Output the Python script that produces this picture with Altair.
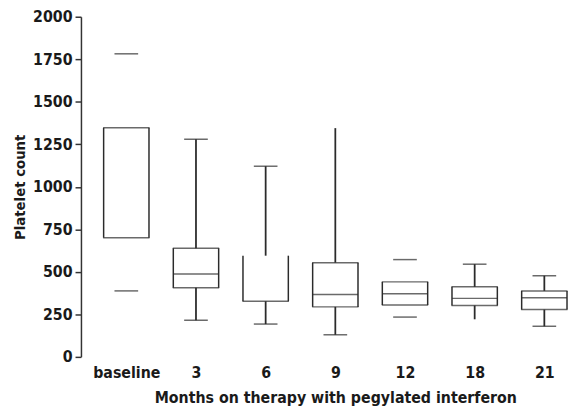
import altair as alt
import pandas as pd

cats = ["baseline", "3", "6", "9", "12", "18", "21"]
q1 = [701, 406, 327, 294, 305, 302, 278]
med = [0, 487, 398, 367, 371, 344, 348]
q3 = [1347, 639, 595, 554, 441, 412, 388]
lo = [388, 215, 193, 130, 234, 221, 180]
hi = [1782, 1280, 1121, 1345, 572, 545, 477]
# which parts are drawn in the original figure
upper_line = [False, True, True, True, False, True, True]
lower_line = [False, True, True, True, False, True, True]
upper_cap = [True, True, True, False, True, True, True]
lower_cap = [True, True, True, True, True, False, True]
box_top = [True, True, False, True, True, True, True]
has_med = [False, True, False, True, True, True, True]

df = pd.DataFrame({
    "cat": cats, "q1": q1, "med": med, "q3": q3, "lo": lo, "hi": hi,
    "ul": upper_line, "ll": lower_line, "uc": upper_cap, "lc": lower_cap,
    "bt": box_top, "hm": has_med,
})

FONT = "Liberation Sans Narrow, DejaVu Sans Condensed, sans-serif"
INK = "#2b2b2b"
BOXW = 46
CAPW = 24

x = alt.X("cat:N", sort=cats,
          scale=alt.Scale(type="point", range=[46, 470], padding=0),
          axis=alt.Axis(title="Months on therapy with pegylated interferon",
                        labelAngle=0, domain=False, ticks=False, labelPadding=8,
                        titlePadding=9))
yscale = alt.Scale(domain=[0, 2000], nice=False)
yaxis = alt.Axis(title="Platelet count", values=list(range(0, 2001, 250)),
                 format="d", tickSize=6, labelPadding=3, titlePadding=5,
                 titleFontSize=15, grid=False)

base = alt.Chart(df).encode(x=x)

left = base.mark_rule(xOffset=-BOXW / 2, color=INK, strokeWidth=1.5).encode(
    y=alt.Y("q1:Q", scale=yscale, axis=yaxis), y2="q3:Q")
right = base.mark_rule(xOffset=BOXW / 2, color=INK, strokeWidth=1.5).encode(
    y=alt.Y("q1:Q", scale=yscale), y2="q3:Q")
bottom = base.mark_tick(orient="horizontal", size=BOXW + 1, thickness=1.5, color=INK).encode(
    y=alt.Y("q1:Q", scale=yscale))
top = base.mark_tick(orient="horizontal", size=BOXW + 1, thickness=1.5, color=INK).encode(
    y=alt.Y("q3:Q", scale=yscale)).transform_filter("datum.bt")
median = base.mark_tick(orient="horizontal", size=BOXW, thickness=1.5, color=INK).encode(
    y=alt.Y("med:Q", scale=yscale)).transform_filter("datum.hm")
wu = base.mark_rule(color=INK, strokeWidth=1.8).encode(
    y=alt.Y("q3:Q", scale=yscale), y2="hi:Q").transform_filter("datum.ul")
wl = base.mark_rule(color=INK, strokeWidth=1.8).encode(
    y=alt.Y("lo:Q", scale=yscale), y2="q1:Q").transform_filter("datum.ll")
cu = base.mark_tick(orient="horizontal", size=CAPW, thickness=1.5, color=INK).encode(
    y=alt.Y("hi:Q", scale=yscale)).transform_filter("datum.uc")
cl = base.mark_tick(orient="horizontal", size=CAPW, thickness=1.5, color=INK).encode(
    y=alt.Y("lo:Q", scale=yscale)).transform_filter("datum.lc")

chart = alt.layer(left, right, bottom, top, median, wu, wl, cu, cl).properties(
    width=494, height=345,
    background="white",
    autosize=alt.AutoSizeParams(type="none"),
    padding={"left": 74, "top": 6, "right": 0, "bottom": 50},
).configure_view(stroke=None).configure_axis(
    labelFont=FONT, titleFont=FONT, labelFontSize=16, titleFontSize=16,
    labelFontWeight="bold", titleFontWeight="bold",
    labelColor="#1a1a1a", titleColor="#1a1a1a",
    domainColor="#333", tickColor="#333", domainWidth=1.5, tickWidth=1.5,
)

chart.save("out.html", embed_options={"renderer": "svg", "actions": False})
